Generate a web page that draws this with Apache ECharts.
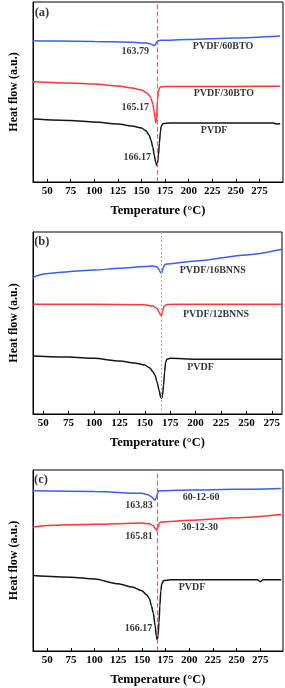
<!DOCTYPE html>
<html>
<head>
<meta charset="utf-8">
<script src="https://cdn.jsdelivr.net/npm/echarts@6/dist/echarts.min.js"></script>
<style>html,body{margin:0;padding:0;background:#fff;}#c{width:285px;height:688px;}</style>
</head>
<body>
<div id="c"></div>
<script>
// ---------- DATA ----------
const tickValues = [50, 75, 100, 125, 150, 175, 200, 225, 250, 275];

// Panel (a)
const aBlueT = [35, 60, 100, 140, 155, 160, 162, 163.79, 165, 167, 170, 200, 250, 297];
const aBlueV = [78.5, 78.3, 78.1, 77.6, 77.2, 76.7, 76.1, 75.7, 76.7, 78.3, 78.7, 79.2, 80, 81.1];
const aRedT = [35, 75, 100, 125, 140, 150, 155, 158, 160, 162, 163.5, 164.5, 165.17, 166, 167, 168, 170, 175, 200, 250, 297];
const aRedV = [55.7, 55, 54.4, 53.3, 52.2, 51.1, 49.7, 48.3, 46.7, 43.3, 38.9, 35, 32.9, 35.6, 45.6, 51.1, 52.8, 53.1, 53.1, 53.1, 53.2];
const aBlackT = [35, 75, 100, 125, 140, 150, 155, 158, 160, 162, 163.5, 165, 166.17, 167, 168, 169, 170, 171, 173, 180, 250, 290, 293, 297];
const aBlackV = [35, 34.2, 33.3, 32.2, 31.1, 30, 28.3, 26.1, 23.3, 19.4, 15, 11.1, 9.1, 10.6, 15, 21.7, 27.8, 31.1, 32.5, 32.8, 32.8, 32.8, 32.2, 32.5];
const aNames = ['PVDF/60BTO', 'PVDF/30BTO', 'PVDF'];
const aPeaks = ['163.79', '165.17', '166.17'];

// Panel (b)
const bBlueT = [40, 45, 50, 60, 75, 100, 125, 150, 158, 162, 164, 165.5, 166.5, 168, 170, 200, 250, 285];
const bBlueV = [74.9, 76.1, 76.9, 77.5, 78.2, 79.1, 80.1, 81.0, 81.3, 80.8, 79.4, 77.7, 77.3, 80.2, 82.3, 84.1, 87.4, 90.5];
const bRedT = [40, 100, 150, 158, 162, 164, 165.5, 166.5, 167.5, 169, 172, 200, 285];
const bRedV = [60.3, 60.3, 60.0, 59.3, 58.0, 56.0, 54.4, 54.0, 56.6, 59.3, 60.2, 60.3, 60.3];
const bBlackT = [40, 75, 100, 125, 140, 150, 155, 158, 160, 162, 164, 165.5, 166.5, 167.5, 168.5, 169.5, 170.5, 172, 175, 200, 285];
const bBlackV = [31.9, 31.3, 30.6, 29.1, 28.0, 26.9, 25.3, 23.2, 21.4, 17.7, 13.2, 9.6, 8.6, 10.4, 15.9, 23.1, 28.6, 30.2, 30.6, 30.1, 30.1];
const bNames = ['PVDF/16BNNS', 'PVDF/12BNNS', 'PVDF'];

// Panel (c)
const cBlueT = [35, 100, 150, 156, 160, 162, 163.83, 165, 166.5, 168, 175, 200, 250, 297];
const cBlueV = [88.5, 88.1, 87.1, 86.4, 85.3, 84.2, 83.3, 84.4, 87.2, 88.5, 88.6, 88.9, 89.3, 89.8];
const cRedT = [35, 50, 100, 150, 158, 162, 164, 165.81, 167, 168.5, 170, 200, 250, 297];
const cRedV = [68.5, 69.4, 70, 70.7, 70.3, 69.2, 67.8, 66.7, 68.3, 70.6, 71.3, 72.2, 73.6, 75.4];
const cBlackT = [35, 75, 100, 125, 140, 150, 155, 158, 160, 162, 164, 165.2, 166.17, 167, 168, 169, 170, 171, 173, 180, 250, 272, 275, 278, 297];
const cBlackV = [41.7, 40.8, 39.8, 37.1, 35.3, 33.3, 31.1, 28.9, 25, 21.1, 13.9, 8.3, 6.1, 8.3, 15.6, 25, 33.3, 37.2, 38.9, 39.3, 39.3, 39.3, 38.3, 39.3, 39.3];
const cNames = ['60-12-60', '30-12-30', 'PVDF'];
const cPeaks = ['163.83', '165.81', '166.17'];

const panelTags = ['(a)', '(b)', '(c)'];
const peakLines = [166.2, 166.1, 166.6];

// ---------- LAYOUT / STYLE ----------
const FONT = '"Liberation Serif", "Times New Roman", serif';
const BLUE = '#3a5ef0', RED = '#ff3636', BLACK = '#151515';
const grids = [
  { left: 29, top: 2, width: 254, height: 180 },
  { left: 29, top: 232, width: 253, height: 182 },
  { left: 30, top: 470, width: 253, height: 181 }
];
const xRanges = [[35, 300], [40, 285], [35, 299]];
const dashStyles = [
  { color: '#ff5a5a', type: 'dashed', width: 1.2 },
  { color: '#ff8a8a', type: [2, 2], width: 1 },
  { color: '#ff5a5a', type: 'dashed', width: 1.2 }
];

const zip = (t, v) => t.map((x, i) => [x, v[i]]);

const curves = [
  [[aBlueT, aBlueV, BLUE], [aRedT, aRedV, RED], [aBlackT, aBlackV, BLACK]],
  [[bBlueT, bBlueV, BLUE], [bRedT, bRedV, RED], [bBlackT, bBlackV, BLACK]],
  [[cBlueT, cBlueV, BLUE], [cRedT, cRedV, RED], [cBlackT, cBlackV, BLACK]]
];

// annotation anchor points (data coordinates) for text
const annotations = [
  [
    { text: panelTags[0], at: [44.5, 93.8], size: 12.5 },
    { text: aPeaks[0], at: [143.5, 72.8] },
    { text: aNames[0], at: [236.4, 75.2] },
    { text: aPeaks[1], at: [143.5, 41.7] },
    { text: aNames[1], at: [237.4, 49.4] },
    { text: aPeaks[2], at: [145.6, 13.9] },
    { text: aNames[2], at: [227, 28.9] }
  ],
  [
    { text: panelTags[1], at: [48.7, 94.7], size: 12.5 },
    { text: bNames[0], at: [216.9, 78.7] },
    { text: bNames[1], at: [220.1, 54.8] },
    { text: bNames[2], at: [204.9, 25.4] }
  ],
  [
    { text: panelTags[2], at: [43.4, 94.4], size: 12.5 },
    { text: cPeaks[0], at: [147, 80.2] },
    { text: cNames[0], at: [212.5, 84.6] },
    { text: cPeaks[1], at: [147, 63.3] },
    { text: cNames[1], at: [211.1, 68.5] },
    { text: cPeaks[2], at: [146.4, 12.4] },
    { text: cNames[2], at: [203, 35.2] }
  ]
];

const option = {
  backgroundColor: '#fff',
  animation: false,
  grid: grids.map(g => Object.assign({ show: true, borderColor: '#000', borderWidth: 1, backgroundColor: 'transparent' }, g)),
  xAxis: grids.map((g, i) => ({
    type: 'value', gridIndex: i, min: xRanges[i][0], max: xRanges[i][1],
    axisLine: { show: true, onZero: false, lineStyle: { color: '#000', width: 1 } },
    axisTick: { show: true, inside: true, length: 3, customValues: tickValues, lineStyle: { color: '#000' } },
    axisLabel: { customValues: tickValues, color: '#000', fontFamily: FONT, fontWeight: 'bold', fontSize: 11, margin: 4 },
    splitLine: { show: false },
    name: 'Temperature (°C)', nameLocation: 'middle', nameGap: 22,
    nameTextStyle: { color: '#000', fontFamily: FONT, fontWeight: 'bold', fontSize: 12.5 }
  })),
  yAxis: grids.map((g, i) => ({
    type: 'value', gridIndex: i, min: 0, max: 100,
    axisLine: { show: true, onZero: false, lineStyle: { color: '#000', width: 1 } },
    axisTick: { show: false }, axisLabel: { show: false }, splitLine: { show: false },
    name: 'Heat flow (a.u.)', nameLocation: 'middle', nameGap: 13, nameRotate: 90,
    nameTextStyle: { color: '#000', fontFamily: FONT, fontWeight: 'bold', fontSize: 12 }
  })),
  series: []
};

curves.forEach((panel, i) => {
  panel.forEach(([t, v, col], k) => {
    const s = {
      type: 'line', xAxisIndex: i, yAxisIndex: i, data: zip(t, v),
      showSymbol: false, smooth: 0.25, smoothMonotone: 'x',
      lineStyle: { color: col, width: 1.5 }, itemStyle: { color: col }, silent: true
    };
    if (k === 0) {
      s.markLine = {
        silent: true, symbol: ['none', 'none'], label: { show: false },
        lineStyle: dashStyles[i], data: [{ xAxis: peakLines[i] }]
      };
    }
    option.series.push(s);
  });
  option.series.push({
    type: 'scatter', xAxisIndex: i, yAxisIndex: i, symbolSize: 0, silent: true, z: 5,
    data: annotations[i].map(a => ({
      value: a.at, name: a.text,
      label: { fontSize: a.size || 10 }
    })),
    label: {
      show: true, position: 'inside', formatter: '{b}', color: '#000',
      fontFamily: FONT, fontWeight: 'bold', fontSize: 10
    }
  });
});

const chart = echarts.init(document.getElementById('c'), null, { renderer: 'canvas' });
chart.setOption(option);
</script>
</body>
</html>
